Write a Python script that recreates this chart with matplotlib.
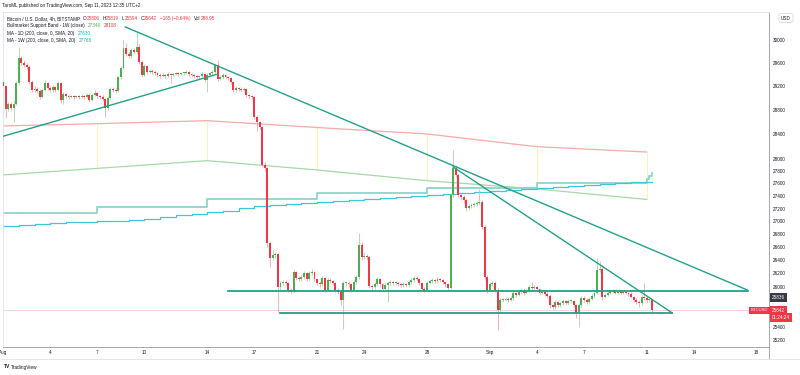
import matplotlib
matplotlib.use("Agg")
import matplotlib.pyplot as plt
from matplotlib.ticker import FixedLocator, FixedFormatter, NullLocator
from matplotlib.transforms import blended_transform_factory
from matplotlib.lines import Line2D
import numpy as np

plt.rcParams['font.family'] = ['Liberation Sans', 'DejaVu Sans']

# BTCUSD 4h bars, bar 0 = Aug 1 00:00 UTC (6 bars per day)
first_open = 29273
closes = [
    29205, 28818, 28902, 28835, 28902, 29256, 29683, 29597, 29563, 29529, 29273, 29138,
    29155, 29121, 29019, 29138, 29256, 29172, 29138, 29188, 29138, 29256, 28969, 29070,
    29036, 29019, 29036, 29019, 29036, 29019, 29036, 29019, 29053, 28969, 29053, 29087,
    29036, 29019, 28986, 28835, 29003, 29155, 29138, 29121, 29358, 29512, 29856, 29752,
    29718, 29821, 29787, 29873, 29615, 29392, 29546, 29444, 29461, 29444, 29427, 29392,
    29375, 29392, 29375, 29409, 29392, 29409, 29427, 29409, 29427, 29427, 29444, 29409,
    29392, 29375, 29358, 29375, 29409, 29307, 29392, 29427, 29444, 29563, 29324, 29358,
    29392, 29358, 29341, 29273, 29138, 29172, 29155, 29138, 29155, 29053, 29036, 29019,
    28685, 28602, 28519, 27898, 27850, 26665, 26434, 26480, 26495, 25994, 26054, 26069,
    26054, 25949, 25919, 26221, 26130, 26115, 26145, 26205, 26115, 26205, 26221, 26115,
    26054, 26039, 26130, 25949, 26099, 26084, 26054, 25949, 25919, 25799, 26054, 26054,
    26039, 25949, 26069, 26145, 26634, 26449, 26465, 26449, 26009, 25994, 26039, 26115,
    26039, 25964, 26024, 26054, 26069, 26054, 26054, 26039, 26024, 26039, 26024, 26069,
    26099, 26130, 26115, 26054, 25964, 25949, 26054, 26084, 26099, 26084, 26115, 26099,
    26069, 26039, 25979, 27417, 27850, 27737, 27417, 27386, 27338, 27212, 27243, 27259,
    27275, 27290, 27306, 26913, 26145, 25949, 26039, 26054, 25949, 25649, 25799, 25799,
    25814, 25799, 25829, 25904, 25874, 25919, 25949, 25904, 25934, 25994, 25979, 25994,
    25964, 25904, 25919, 25889, 25859, 25725, 25695, 25769, 25725, 25754, 25784, 25754,
    25784, 25784, 25725, 25605, 25725, 25829, 25799, 25769, 25814, 25859, 25904, 26251,
    26266, 25844, 25874, 25904, 25919, 25934, 25904, 25919, 25904, 25919, 25904, 25889,
    25844, 25799, 25769, 25754, 25844, 25829, 25799, 25806, 25642,
]
highs = [
    29340, 29230, 28940, 28930, 28950, 29290, 29870, 29720, 29640, 29600, 29560, 29300,
    29200, 29190, 29150, 29170, 29300, 29280, 29200, 29230, 29210, 29290, 29270, 29100,
    29090, 29060, 29060, 29050, 29060, 29060, 29070, 29050, 29080, 29080, 29080, 29130,
    29110, 29060, 29050, 29010, 29030, 29180, 29190, 29170, 29380, 29550, 29990, 29950,
    29800, 29860, 29860, 30150, 29920, 29640, 29580, 29570, 29500, 29490, 29470, 29450,
    29420, 29420, 29410, 29440, 29430, 29430, 29450, 29440, 29450, 29450, 29470, 29460,
    29430, 29410, 29390, 29400, 29440, 29430, 29420, 29450, 29470, 29600, 29650, 29390,
    29420, 29410, 29380, 29360, 29290, 29200, 29190, 29180, 29180, 29170, 29070, 29050,
    29040, 28700, 28620, 28530, 27950, 27870, 26700, 26550, 26530, 26510, 26080, 26100,
    26100, 26070, 25980, 26260, 26240, 26160, 26180, 26240, 26220, 26230, 26260, 26230,
    26130, 26080, 26160, 26150, 26130, 26130, 26100, 26070, 25970, 25940, 26080, 26090,
    26080, 26060, 26100, 26180, 26820, 26680, 26520, 26500, 26470, 26040, 26070, 26150,
    26130, 26060, 26050, 26080, 26100, 26090, 26080, 26070, 26060, 26070, 26060, 26100,
    26130, 26160, 26160, 26130, 26070, 25990, 26080, 26110, 26130, 26120, 26150, 26130,
    26120, 26090, 26060, 27450, 28140, 27900, 27760, 27450, 27410, 27360, 27280, 27290,
    27300, 27320, 27510, 27330, 26940, 26170, 26070, 26080, 26080, 25970, 25820, 25830,
    25840, 25840, 25860, 25930, 25920, 25950, 25980, 25970, 25960, 26030, 26070, 26020,
    26010, 25980, 25950, 25940, 25910, 25880, 25740, 25800, 25790, 25780, 25810, 25800,
    25810, 25810, 25800, 25740, 25750, 25860, 25850, 25820, 25840, 25880, 25940, 26434,
    26380, 26290, 25900, 25930, 25940, 25960, 25950, 25940, 25940, 25940, 25940, 25920,
    25910, 25860, 25820, 25790, 25870, 26050, 25850, 25830, 25819,
]
lows = [
    29150, 28670, 28780, 28800, 28600, 28880, 29230, 29560, 29530, 29490, 29240, 29100,
    29100, 29080, 28990, 29000, 29120, 29140, 29100, 29110, 29100, 29120, 28920, 28900,
    29000, 28990, 29000, 28990, 29000, 28990, 29000, 28990, 29000, 28940, 28950, 29030,
    29000, 28990, 28950, 28690, 28800, 28980, 29100, 29090, 29100, 29330, 29490, 29720,
    29680, 29690, 29750, 29760, 29580, 29350, 29370, 29410, 29420, 29410, 29390, 29360,
    29340, 29350, 29340, 29350, 29256, 29370, 29390, 29380, 29390, 29400, 29410, 29380,
    29360, 29340, 29320, 29330, 29350, 29270, 29100, 29370, 29400, 29420, 29290, 29300,
    29330, 29330, 29310, 29240, 29100, 29110, 29120, 29100, 29110, 29020, 28990, 28980,
    28650, 28450, 28480, 27860, 27800, 26600, 26300, 26400, 26440, 25620, 25940, 26020,
    26020, 25920, 25880, 25900, 26100, 26080, 26090, 26120, 26090, 26090, 26180, 26080,
    26020, 26000, 26010, 25920, 25930, 26050, 26020, 25920, 25880, 25720, 25370, 26010,
    26000, 25920, 25930, 26040, 26120, 26400, 26420, 26410, 25970, 25950, 25960, 26010,
    26000, 25930, 25940, 25770, 26030, 26030, 26020, 26010, 25990, 26000, 25990, 26000,
    26040, 26070, 26080, 26030, 25930, 25910, 25930, 26040, 26060, 26050, 26060, 26070,
    26040, 26000, 25950, 25960, 27390, 27700, 27380, 27340, 27290, 27170, 27180, 27210,
    27230, 27250, 27260, 26880, 26100, 25900, 25920, 26010, 25920, 25357, 25620, 25770,
    25780, 25770, 25780, 25800, 25840, 25850, 25890, 25870, 25880, 25910, 25950, 25950,
    25930, 25870, 25880, 25860, 25820, 25680, 25660, 25670, 25690, 25700, 25730, 25720,
    25730, 25750, 25690, 25530, 25400, 25700, 25770, 25740, 25740, 25790, 25830, 25880,
    26220, 25800, 25820, 25850, 25880, 25900, 25880, 25880, 25880, 25880, 25880, 25860,
    25820, 25770, 25740, 25700, 25730, 25800, 25770, 25770, 25594,
]
opens = [first_open] + closes[:-1]

# Bullmarket Support Band (weekly points, bar index of each Monday)
week_bars = [-6, 36, 78, 120, 162, 204, 246]
band_ema = [28530, 28574, 28624, 28510, 28404, 28195, 28108]
band_sma = [27720, 27843, 27968, 27817, 27645, 27513, 27346]

# MA 200 1W (stepped, last week still moving)
ma_w_bars = [-6, 36, 78, 120, 162, 204, 246, 247, 248]
ma_w_vals = [27137, 27232, 27349, 27442, 27524, 27604, 27680, 27720, 27766]

# MA 200 1D (one value per day)
ma_d_vals = [26929, 26944, 26960, 26975, 26983, 26991, 27006, 27014, 27022, 27038,
             27069, 27093, 27117, 27140, 27164, 27204, 27243, 27259, 27275, 27290,
             27306, 27322, 27338, 27354, 27370, 27386, 27401, 27417, 27433, 27449,
             27465, 27481, 27497, 27513, 27529, 27545, 27561, 27577, 27593, 27609,
             27617, 27630]
ma_d_bars = [6 * d for d in range(len(ma_d_vals))] + [248]
ma_d_vals = ma_d_vals + [27630]

# drawn trend lines: (bar, price) pairs
trend_lines = [
    ((46.7, 30222), (284.3, 25949)),
    ((0.0, 28366), (81.4, 29399)),
    ((172.0, 27866), (255.7, 25605)),
]
levels = [((86.0, 25934), (284.7, 25934)),
          ((106.0, 25600), (255.7, 25600))]

y_ticks = [25200, 25400, 26000, 26200, 26400, 26600, 26800, 27000, 27200, 27400,
           27600, 27800, 28000, 28400, 28800, 29200, 29600, 30000]
x_tick_days = [0, 3, 6, 9, 13, 16, 20, 23, 27, 31, 34, 37, 41, 44, 48]
x_tick_labels = ['Aug', '4', '7', '10', '14', '17', '21', '24', '28', 'Sep',
                 '4', '7', '11', '14', '18']

UP = '#4caf50'
DOWN = '#f23645'
TEAL = '#22a08c'
TXT = '#131722'
FS = 3.3

fig = plt.figure(figsize=(8, 3.75), dpi=100)
fig.patch.set_facecolor('white')
ax = fig.add_axes([3 / 800, 28 / 375, 766 / 800, 335 / 375])
ax.set_yscale('log')
ax.set_ylim(25104, 30485)
ax.set_xlim(-0.04, 292.7)

# band + MAs
ax.vlines(week_bars, band_sma, band_ema, color='#fff0a0', lw=0.6, zorder=1)
ax.plot(week_bars, band_ema, color='#f7aaa8', lw=0.9, zorder=1)
ax.plot(week_bars, band_sma, color='#a8d8aa', lw=0.9, zorder=1)
ax.step(ma_w_bars, ma_w_vals, where='post', color='#8fd3cb', lw=1.3, zorder=1)
ax.step(ma_d_bars, ma_d_vals, where='post', color='#3cc8dc', lw=0.9, zorder=1)

# last price line
ax.axhline(closes[-1], color=DOWN, lw=0.6, alpha=0.25, zorder=1)

# candles
idx = np.arange(len(closes))
o = np.array(opens, float)
c = np.array(closes, float)
up = c >= o
cols = np.where(up, UP, DOWN)
wick_cols = np.where(up, '#a9d3ab', '#f7a3ab')
ax.vlines(idx, lows, highs, colors=wick_cols, lw=0.6, zorder=2)
bottom = np.minimum(o, c)
height = np.maximum(np.abs(c - o), 14)
ax.bar(idx, height, bottom=bottom, width=0.74, color=cols, linewidth=0, zorder=3)

# drawings
for (x0, p0), (x1, p1) in trend_lines:
    ax.plot([x0, x1], [p0, p1], color=TEAL, lw=1.0, zorder=4)
for (x0, p0), (x1, p1) in levels:
    ax.plot([x0, x1], [p0, p1], color=TEAL, lw=1.3, zorder=4)

# axes styling
ax.yaxis.set_major_locator(FixedLocator(y_ticks))
ax.yaxis.set_major_formatter(FixedFormatter([str(v) for v in y_ticks]))
ax.yaxis.set_minor_locator(NullLocator())
ax.yaxis.set_minor_formatter(FixedFormatter([]))
ax.yaxis.tick_right()
ax.tick_params(axis='y', length=0, pad=3, labelsize=FS, colors=TXT)
ax.set_xticks([6 * d for d in x_tick_days])
ax.set_xticklabels(x_tick_labels)
ax.tick_params(axis='x', length=0, pad=2.5, labelsize=FS, colors=TXT)
for s in ['left', 'top']:
    ax.spines[s].set_color('#e0e3eb')
    ax.spines[s].set_linewidth(0.6)
for s in ['right', 'bottom']:
    ax.spines[s].set_color('#9598a1')
    ax.spines[s].set_linewidth(0.6)

fig.add_artist(Line2D([769 / 800, 769 / 800], [1 - 359 / 375, 1 - 347 / 375],
                      transform=fig.transFigure, color='#9598a1', lw=0.6))
fig.add_artist(Line2D([0, 1], [1 - 359 / 375, 1 - 359 / 375],
                      transform=fig.transFigure, color='#e0e3eb', lw=0.6))

# right axis labels
tr = blended_transform_factory(ax.transAxes, ax.transData)
ax.text(1.004, 25836, '25836', transform=tr, fontsize=FS, color='white', va='center',
        ha='left', clip_on=False,
        bbox=dict(boxstyle='square,pad=0.35', fc='#363a45', ec='none'), zorder=6)
ax.text(1.004, 25537, '01:24:24', transform=tr, fontsize=FS, color='white', va='center',
        ha='left', clip_on=False,
        bbox=dict(boxstyle='square,pad=0.35', fc=DOWN, ec='none'), zorder=6)
ax.text(1.004, closes[-1], '25642', transform=tr, fontsize=FS, color='white', va='center',
        ha='left', clip_on=False,
        bbox=dict(boxstyle='square,pad=0.35', fc=DOWN, ec='none'), zorder=7)
ax.text(0.999, closes[-1], 'BTCUSD', transform=tr, fontsize=3.0, color='white',
        va='center', ha='right', clip_on=False,
        bbox=dict(boxstyle='square,pad=0.35', fc=DOWN, ec='none'), zorder=7)
fig.text(786 / 800, 1 - 18 / 375, 'USD', fontsize=FS, color=TXT, ha='center', va='center',
         bbox=dict(boxstyle='round,pad=0.45', fc='white', ec='#d1d4dc', lw=0.5))

# header and legend
fig.text(2 / 800, 1 - 5.7 / 375, 'TaroML published on TradingView.com, Sep 11, 2023 12:35 UTC+2',
         fontsize=FS, color=TXT, va='center', ha='left')


def chain(pieces, x, y):
    t = ax.annotate(pieces[0][0], xy=(x, 375 - y), xycoords='figure pixels', va='center',
                    ha='left', fontsize=FS, color=pieces[0][1], annotation_clip=False)
    for s, col, gap in pieces[1:]:
        t = ax.annotate(s, xy=(1, 0), xycoords=t, xytext=(gap, 0), textcoords='offset points',
                        va='bottom', ha='left', fontsize=FS, color=col, annotation_clip=False)


chain([('Bitcoin / U.S. Dollar, 4h, BITSTAMP', TXT), ('O', TXT, 2.2), ('25806', DOWN, 0),
       ('H', TXT, 2.2), ('25819', DOWN, 0), ('L', TXT, 2.2), ('25594', DOWN, 0),
       ('C', TXT, 2.2), ('25642', DOWN, 0), ('\u2212165 (\u22120.64%)', DOWN, 2.2),
       ('Vol', TXT, 2.2), ('288.95', DOWN, 0)], 7, 18.3)
chain([('Bullmarket Support Band - 1W (close)', TXT), ('27346', UP, 2.2),
       ('28108', DOWN, 2.2)], 7, 25.5)
chain([('MA - 1D (200, close, 0, SMA, 20)', TXT), ('27630', '#00bcd4', 2.2)], 7, 33.3)
chain([('MA - 1W (200, close, 0, SMA, 20)', TXT), ('27766', '#26a69a', 2.2)], 7, 40.7)

# logo
fig.text(4 / 800, 1 - 367 / 375, 'TV', fontsize=3.6, fontweight='bold', color=TXT,
         va='center', ha='left')
fig.text(11 / 800, 1 - 367 / 375, 'TradingView', fontsize=3.4, color=TXT,
         va='center', ha='left')

fig.savefig('out.png', dpi=100, facecolor='white')
